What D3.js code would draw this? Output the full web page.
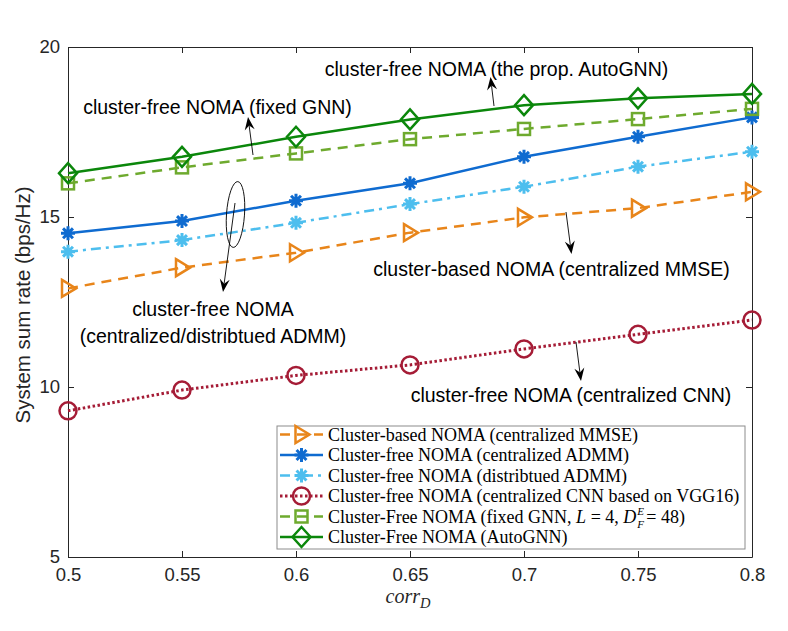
<!DOCTYPE html>
<html><head><meta charset="utf-8">
<script src="https://cdn.jsdelivr.net/npm/d3@7"></script>
<style>body{margin:0;background:#fff}svg{display:block}</style>
</head><body>
<svg id="c" width="788" height="631"></svg>
<script>
const xValues = [0.5, 0.55, 0.6, 0.65, 0.7, 0.75, 0.8];
const xTickLabels = ["0.5","0.55","0.6","0.65","0.7","0.75","0.8"];
const yTicks = [5, 10, 15, 20];
const mmse       = [12.90, 13.51, 13.95, 14.54, 14.99, 15.26, 15.74];
const admmCent   = [14.52, 14.88, 15.48, 15.99, 16.77, 17.36, 17.93];
const admmDist   = [13.98, 14.32, 14.83, 15.38, 15.89, 16.48, 16.92];
const cnn        = [9.30, 9.91, 10.34, 10.65, 11.12, 11.55, 11.97];
const fixedGnn   = [15.99, 16.46, 16.87, 17.29, 17.59, 17.88, 18.18];
const autoGnn    = [16.29, 16.77, 17.36, 17.87, 18.29, 18.49, 18.62];
const seriesNames = [
  "Cluster-based NOMA (centralized MMSE)",
  "Cluster-free NOMA (centralized ADMM)",
  "Cluster-free NOMA (distribtued ADMM)",
  "Cluster-free NOMA (centralized CNN based on VGG16)",
  "Cluster-Free NOMA (fixed GNN, ",
  "Cluster-Free NOMA (AutoGNN)"
];

const svg = d3.select("#c");
const L = 68, R = 752, T = 47, B = 557;
const x = d3.scaleLinear().domain([0.5, 0.8]).range([L, R]);
const y = d3.scaleLinear().domain([5, 20]).range([B, T]);
const axisColor = "#262626";
const sans = "'Liberation Sans', Arial, sans-serif";
const serif = "'Liberation Serif', 'Times New Roman', serif";

// axes box
const g = svg.append("g");
const xa = g.append("g").attr("transform", `translate(0,${B})`)
  .call(d3.axisBottom(x).tickValues(xValues).tickFormat((d,i)=>xTickLabels[i]).tickSizeInner(-6).tickSizeOuter(0).tickPadding(11));
const xt = g.append("g").attr("transform", `translate(0,${T})`)
  .call(d3.axisTop(x).tickValues(xValues).tickFormat("").tickSizeInner(-6).tickSizeOuter(0));
const ya = g.append("g").attr("transform", `translate(${L},0)`)
  .call(d3.axisLeft(y).tickValues(yTicks).tickSizeInner(-6).tickSizeOuter(0).tickPadding(8));
const yr = g.append("g").attr("transform", `translate(${R},0)`)
  .call(d3.axisRight(y).tickValues(yTicks).tickFormat("").tickSizeInner(-6).tickSizeOuter(0));
[xa, xt, ya, yr].forEach(a => {
  a.selectAll("path,line").attr("stroke", axisColor).attr("stroke-width", 1);
  a.selectAll("text").attr("fill", "#262626").style("font-family", sans).style("font-size", "18.5px");
});
xa.selectAll("text").attr("dy", "0.71em");

// axis labels
svg.append("text").attr("transform", `translate(30,305) rotate(-90)`)
  .attr("text-anchor", "middle").style("font-family", sans).style("font-size", "20.5px").attr("fill", "#262626")
  .text("System sum rate (bps/Hz)");
const xl = svg.append("text").attr("x", 408).attr("y", 603).attr("text-anchor", "middle")
  .style("font-family", serif).style("font-size", "20px").style("font-style", "italic").attr("fill", "#262626");
xl.append("tspan").text("corr");
xl.append("tspan").attr("dy", 5).style("font-size", "14.5px").text("D");

// series definitions
const series = [
  {v: mmse, color: "#E8851A", dash: "10,7", w: 2.5, marker: "tri"},
  {v: admmCent, color: "#0F6BD0", dash: null, w: 2.5, marker: "star"},
  {v: admmDist, color: "#4DBEEE", dash: "10,5,3,5", w: 2.5, marker: "star"},
  {v: cnn, color: "#A51C36", dash: "2.5,2.5", w: 3, marker: "circle"},
  {v: fixedGnn, color: "#6EAA2E", dash: "10,7", w: 2.5, marker: "square"},
  {v: autoGnn, color: "#0B870B", dash: null, w: 2.5, marker: "diamond"}
];

function drawMarker(sel, type, cx, cy, color) {
  let m;
  if (type === "tri") {
    m = sel.append("path").attr("d", `M${cx-6},${cy-8.5}L${cx+8},${cy}L${cx-6},${cy+8.5}Z`);
  } else if (type === "star") {
    const r = 7, r2 = r * Math.SQRT1_2;
    m = sel.append("path").attr("d",
      `M${cx-r},${cy}L${cx+r},${cy}M${cx},${cy-r}L${cx},${cy+r}M${cx-r2},${cy-r2}L${cx+r2},${cy+r2}M${cx-r2},${cy+r2}L${cx+r2},${cy-r2}`);
  } else if (type === "circle") {
    m = sel.append("circle").attr("cx", cx).attr("cy", cy).attr("r", 8.5);
  } else if (type === "square") {
    m = sel.append("rect").attr("x", cx-6).attr("y", cy-6).attr("width", 12).attr("height", 12);
  } else if (type === "diamond") {
    m = sel.append("path").attr("d", `M${cx},${cy-10}L${cx+9},${cy}L${cx},${cy+10}L${cx-9},${cy}Z`);
  }
  m.attr("stroke", color).attr("fill", "none").attr("stroke-width", type === "star" ? 3 : 2.5);
  return m;
}

const line = d3.line().x((d, i) => x(xValues[i])).y(d => y(d));
const plot = svg.append("g");
series.forEach(s => {
  plot.append("path").datum(s.v).attr("d", line).attr("fill", "none")
    .attr("stroke", s.color).attr("stroke-width", s.w)
    .attr("stroke-dasharray", s.dash);
});
series.forEach(s => {
  const mg = plot.append("g");
  s.v.forEach((d, i) => drawMarker(mg, s.marker, x(xValues[i]), y(d), s.color));
});

// annotations
function arrow(x1, y1, x2, y2) {
  const a = svg.append("g");
  const ang = Math.atan2(y2 - y1, x2 - x1);
  const len = 13, hw = 5;
  const bx = x2 - len * Math.cos(ang), by = y2 - len * Math.sin(ang);
  const nx = -Math.sin(ang), ny = Math.cos(ang);
  const nb = 0.35 * len;
  const mx = x2 - (len - nb) * Math.cos(ang), my = y2 - (len - nb) * Math.sin(ang);
  a.append("line").attr("x1", x1).attr("y1", y1).attr("x2", mx).attr("y2", my)
    .attr("stroke", "#000").attr("stroke-width", 0.9);
  a.append("path").attr("d",
    `M${x2},${y2}L${bx + nx*hw},${by + ny*hw}L${mx},${my}L${bx - nx*hw},${by - ny*hw}Z`)
    .attr("fill", "#000");
}
function note(cx, cy, txt) {
  svg.append("text").attr("x", cx).attr("y", cy + 7).attr("text-anchor", "middle")
    .style("font-family", sans).style("font-size", "19.5px").attr("fill", "#000").text(txt);
}
note(496.5, 69, "cluster-free NOMA (the prop. AutoGNN)");
arrow(494, 106, 490.5, 77);
note(217.5, 107, "cluster-free NOMA (fixed GNN)");
arrow(253, 155, 248, 117);
svg.append("ellipse").attr("cx", 235.5).attr("cy", 214.5).attr("rx", 9).attr("ry", 33)
  .attr("transform", "rotate(4,235.5,214.5)")
  .attr("fill", "none").attr("stroke", "#000").attr("stroke-width", 0.9);
arrow(235, 203, 223, 292);
note(213, 309, "cluster-free NOMA");
note(213, 336, "(centralized/distribtued ADMM)");
note(551.5, 269, "cluster-based NOMA (centralized MMSE)");
arrow(566, 212, 571.5, 254);
note(571, 395, "cluster-free NOMA (centralized CNN)");
arrow(576, 342, 581, 381);

// legend
const lg = svg.append("g");
lg.append("rect").attr("x", 277).attr("y", 426).attr("width", 468).attr("height", 123)
  .attr("fill", "#fff").attr("stroke", "#8c8c8c").attr("stroke-width", 1);
const legY = [434.5, 455, 475.5, 496, 516.5, 537];
const lfs = 18;
series.forEach((s, i) => {
  const cy = legY[i];
  lg.append("line").attr("x1", 280).attr("x2", 323).attr("y1", cy).attr("y2", cy)
    .attr("stroke", s.color).attr("stroke-width", s.w).attr("stroke-dasharray", s.dash);
  drawMarker(lg, s.marker, 301.5, cy, s.color);
  const t = lg.append("text").attr("x", 328).attr("y", cy + 6)
    .style("font-family", serif).style("font-size", lfs + "px").attr("fill", "#000").text(seriesNames[i]);
  if (i === 4) {
    t.append("tspan").style("font-style", "italic").text("L");
    t.append("tspan").text(" = 4, ");
    t.append("tspan").style("font-style", "italic").text("D");
    const w = t.node().getComputedTextLength();
    const sx = 328 + w + 1;
    lg.append("text").attr("x", sx).attr("y", cy - 2).style("font-family", serif).style("font-style", "italic")
      .style("font-size", "11px").text("E");
    lg.append("text").attr("x", sx).attr("y", cy + 11).style("font-family", serif).style("font-style", "italic")
      .style("font-size", "11px").text("F");
    lg.append("text").attr("x", sx + 9).attr("y", cy + 6).style("font-family", serif)
      .style("font-size", lfs + "px").text(" = 48)");
  }
});
</script>
</body></html>
